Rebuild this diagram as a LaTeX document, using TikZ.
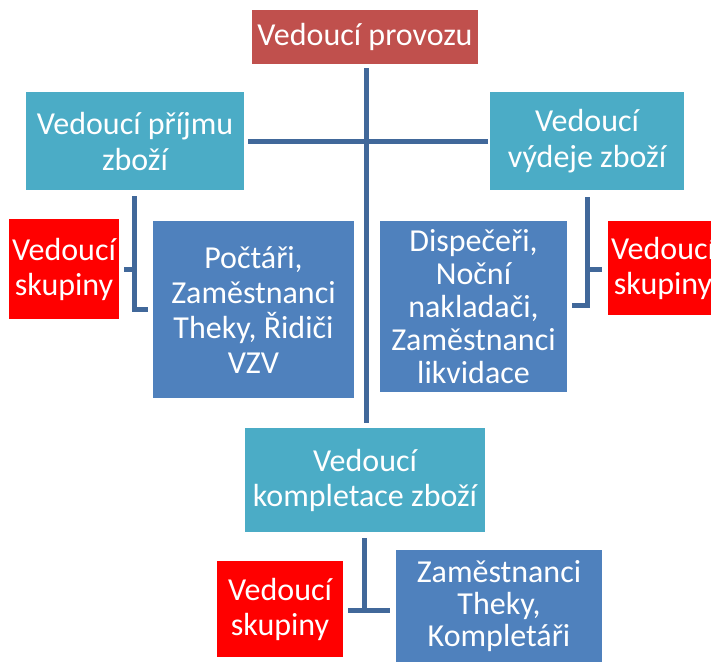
\documentclass[tikz,border=0pt]{standalone}
\usepackage{fontspec}
\setmainfont{Carlito}
\usepackage{tikz}
\definecolor{boss}{HTML}{C0504D}
\definecolor{head}{HTML}{4BACC6}
\definecolor{staff}{HTML}{4F81BD}
\definecolor{group}{HTML}{FF0000}
\definecolor{wire}{HTML}{41689A}
\tikzset{
  unit/.style={inner sep=0pt,text=white,align=center,
    font=\fontsize{32}{35}\selectfont},
  bossbox/.style={unit,fill=boss},
  headbox/.style={unit,fill=head},
  staffbox/.style={unit,fill=staff},
  groupbox/.style={unit,fill=group},
  conn/.style={draw=wire,line width=5pt,line join=miter}
}

\begin{document}
\begin{tikzpicture}[x=1pt,y=-1pt]
	\useasboundingbox (0,0) rectangle (711,661);
	\node[bossbox,minimum width=226pt,minimum height=54pt]  (prov)   at (365,37)    {Vedoucí provozu};
	\node[headbox,minimum width=218pt,minimum height=98pt,font=\fontsize{32}{36}\selectfont]  (prijem) at (135,141)   {Vedoucí příjmu\\zboží};
	\node[headbox,minimum width=194pt,minimum height=98pt,font=\fontsize{32}{36}\selectfont]  (vydej)  at (587,141)   {Vedoucí\\výdeje zboží};
	\node[groupbox,minimum width=110pt,minimum height=100pt] (skupL)  at (64,269)    {Vedoucí\\skupiny};
	\node[staffbox,minimum width=201pt,minimum height=177pt] (pocet)  at (253.5,309.5) {Počtáři,\\Zaměstnanci\\Theky, Řidiči\\VZV};
	\node[staffbox,minimum width=187pt,minimum height=171pt,font=\fontsize{32}{33}\selectfont] (disp) at (473.5,306.5) {Dispečeři,\\Noční\\nakladači,\\Zaměstnanci\\likvidace};
	\node[groupbox,minimum width=110pt,minimum height=94pt]  (skupR)  at (663,268)   {Vedoucí\\skupiny};
	\node[headbox,minimum width=240pt,minimum height=104pt] (kompl)  at (365,480)   {Vedoucí\\kompletace zboží};
	\node[groupbox,minimum width=126pt,minimum height=96pt]  (skupB)  at (280,609)   {Vedoucí\\skupiny};
	\node[staffbox,minimum width=206pt,minimum height=112pt,font=\fontsize{32}{32}\selectfont] (zamB) at (499,606) {Zaměstnanci\\Theky,\\Kompletáři};
	% main tree
	\draw[conn] ([xshift=1pt,yshift=-4pt]prov.south) -- ([xshift=1pt,yshift=5pt]kompl.north);
	\draw[conn] ([xshift=4pt]prijem.east) -- ([xshift=-2pt]vydej.west);
	% left group
	\draw[conn] ([xshift=-1pt,yshift=-6pt]prijem.south) |- ([xshift=-5pt,yshift=0.5pt]pocet.west);
	\draw[conn] ([xshift=5pt]skupL.east) -- ++(10,0);
	% right group
	\draw[conn] ([yshift=-7pt]vydej.south) |- ([xshift=5pt,yshift=1.5pt]disp.east);
	\draw[conn] ([xshift=-6pt,yshift=-1pt]skupR.west) -- ++(-15,0);
	% bottom group
	\draw[conn] ([xshift=-1pt,yshift=-6pt]kompl.south) -- ([xshift=-1pt]kompl.south |- skupB.east);
	\draw[conn] ([xshift=5pt,yshift=-1pt]skupB.east) -- ([xshift=-6pt,yshift=-1pt]zamB.west |- skupB.east);
\end{tikzpicture}
\end{document}
